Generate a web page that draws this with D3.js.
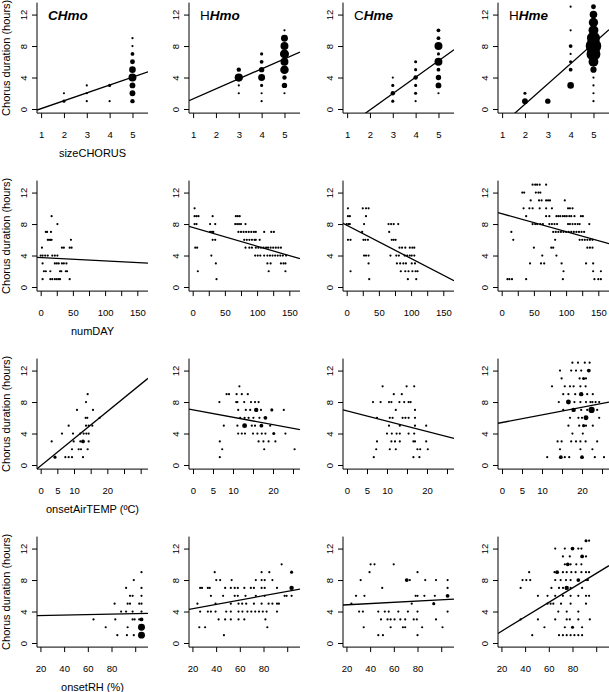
<!DOCTYPE html>
<html><head><meta charset="utf-8">
<script src="https://cdn.jsdelivr.net/npm/d3@7"></script>
<style>
body{margin:0;background:#fff}
text{font-family:"Liberation Sans",Arial,Helvetica,sans-serif;fill:#000}
</style>
</head><body><svg id="c" width="609" height="692"></svg>
<script>
// ---------- DATA ([x, y, count]) ----------
const panelNames = [["C","Hmo"],["H","Hmo"],["C","Hme"],["H","Hme"]];
const yTicks = [0,4,8,12];

// Row 1: sizeCHORUS
const sizeCHmo = [[2,2,1],[2,1,2],[3,3,1],[3,2,1],[3,1,1],[4,3,2],[4,1,1],[5,9,1],[5,8,1],[5,7,3],[5,6,5],[5,5,9],[5,4,13],[5,3,7],[5,2,7],[5,1,4]];
const sizeHHmo = [[3,5,4],[3,4,14],[3,3,1],[3,2,1],[4,7,2],[4,6,3],[4,5,6],[4,4,10],[4,3,2],[4,2,1],[4,1,1],[5,10,1],[5,9,10],[5,8,13],[5,7,17],[5,6,13],[5,5,15],[5,4,4],[5,3,6],[5,2,1]];
const sizeCHme = [[3,4,1],[3,3,2],[3,2,4],[3,1,2],[4,6,2],[4,5,2],[4,4,4],[4,3,2],[4,2,2],[4,1,1],[5,10,3],[5,9,3],[5,8,13],[5,7,2],[5,6,13],[5,5,3],[5,4,6],[5,3,7],[5,2,1]];
const sizeHHme = [[2,2,2],[2,1,7],[3,1,6],[4,13,1],[4,10,1],[4,8,3],[4,7,1],[4,6,2],[4,5,3],[4,3,9],[5,13,5],[5,12,12],[5,11,18],[5,10,20],[5,9,35],[5,8,50],[5,7,40],[5,6,20],[5,5,8],[5,4,1],[5,3,1],[5,2,1],[5,1,1]];
const fitSize = [[-0.95,1.0],[0.02,1.27],[-4.28,2.08],[-4.54,2.575]];
const sizeTicks = [1,2,3,4,5], sizeLabels = [1,2,3,4,5];

// Row 2: numDAY
const dayCHmo = [[17,9,1],[26,8,1],[8,7,1],[10,7,1],[16,7,1],[11,6,1],[13,6,1],[15,6,1],[17,6,1],[47,6,1],[2,5,1],[33,5,1],[36,5,1],[45,5,1],[48,5,1],[0,4,1],[3,4,1],[7,4,1],[11,4,1],[18,4,1],[22,4,1],[26,4,1],[3,3,1],[22,3,1],[25,3,1],[28,3,1],[33,3,1],[36,3,1],[40,3,1],[5,2,1],[8,2,1],[15,2,1],[30,2,1],[32,2,1],[39,2,1],[41,2,1],[3,1,1],[15,1,1],[18,1,1],[22,1,1],[25,1,1],[28,1,1],[30,1,1],[45,1,1]];
const dayHHmo = [[3,10,1],[3,9,1],[6,9,1],[9,9,1],[31,9,1],[67,9,1],[70,9,1],[73,9,1],[3,8,1],[6,8,1],[27,8,1],[35,8,1],[66,8,1],[69,8,1],[72,8,1],[75,8,1],[82,8,1],[27,7,1],[30,7,1],[32,7,1],[71,7,1],[75,7,1],[79,7,1],[83,7,1],[87,7,1],[91,7,1],[95,7,1],[98,7,1],[111,7,1],[122,7,1],[126,7,1],[31,6,1],[35,6,1],[80,6,1],[84,6,1],[88,6,1],[92,6,1],[96,6,1],[98,6,1],[104,6,1],[4,5,1],[7,5,1],[82,5,1],[88,5,1],[92,5,1],[98,5,1],[102,5,1],[106,5,1],[110,5,1],[114,5,1],[117,5,1],[121,5,1],[125,5,1],[129,5,1],[133,5,1],[137,5,1],[29,4,1],[97,4,1],[101,4,1],[105,4,1],[111,4,1],[116,4,1],[120,4,1],[124,4,1],[128,4,1],[132,4,1],[136,4,1],[140,4,1],[145,4,1],[36,3,1],[116,3,1],[121,3,1],[137,3,1],[141,3,1],[144,3,1],[8,2,1],[118,2,1],[144,2,1],[37,1,1]];
const dayCHme = [[2,10,1],[25,10,1],[30,10,1],[34,10,1],[2,9,1],[5,9,1],[30,9,1],[0,8,1],[3,8,1],[5,8,1],[27,8,1],[65,8,1],[69,8,1],[73,8,1],[80,8,1],[24,7,1],[66,7,1],[2,6,1],[6,6,1],[26,6,1],[29,6,1],[33,6,1],[70,6,1],[73,6,1],[76,6,1],[82,5,1],[86,5,1],[91,5,1],[98,5,1],[102,5,1],[105,5,1],[27,4,1],[30,4,1],[34,4,1],[68,4,1],[77,4,1],[81,4,1],[90,4,1],[94,4,1],[98,4,1],[101,4,1],[105,4,1],[34,3,1],[78,3,1],[83,3,1],[88,3,1],[92,3,1],[101,3,1],[106,3,1],[6,2,1],[84,2,1],[91,2,1],[96,2,1],[102,2,1],[107,2,1],[110,2,1],[35,1,1],[95,1,1],[108,1,1]];
const dayHHme = [[48,13,1],[52,13,1],[55,13,1],[59,13,1],[69,13,1],[32,12,1],[35,12,1],[53,12,1],[57,12,1],[60,12,1],[45,11,1],[58,11,1],[62,11,1],[69,11,1],[72,11,1],[75,11,1],[98,11,1],[34,10,1],[43,10,1],[48,10,1],[59,10,1],[69,10,1],[78,10,1],[103,10,1],[106,10,1],[110,10,1],[38,9,1],[69,9,1],[74,9,1],[85,9,1],[88,9,1],[91,9,1],[95,9,1],[98,9,1],[101,9,1],[105,9,1],[108,9,1],[113,9,1],[123,9,1],[126,9,1],[48,8,1],[52,8,1],[55,8,1],[60,8,1],[64,8,1],[74,8,1],[78,8,1],[82,8,1],[86,8,1],[103,8,1],[106,8,1],[110,8,1],[114,8,1],[118,8,1],[121,8,1],[136,8,1],[15,7,1],[80,7,1],[84,7,1],[88,7,1],[92,7,1],[96,7,1],[100,7,1],[104,7,1],[108,7,1],[112,7,1],[116,7,1],[120,7,1],[124,7,1],[128,7,1],[18,6,1],[83,6,1],[121,6,1],[125,6,1],[129,6,1],[133,6,1],[137,6,1],[141,6,1],[50,5,1],[77,5,1],[80,5,1],[133,5,1],[137,5,1],[141,5,1],[63,4,1],[85,4,1],[44,3,1],[61,3,1],[66,3,1],[93,3,1],[131,3,1],[142,3,1],[96,2,1],[142,2,1],[154,2,1],[9,1,1],[12,1,1],[16,1,1],[38,1,1],[95,1,1],[144,1,1],[150,1,1],[154,1,1]];
const fitDay = [[3.73,-0.0041],[7.56,-0.0238],[7.86,-0.0424],[9.32,-0.0229]];
const dayTicks = [0,25,50,75,100,125,150], dayLabels = [0,50,100,150];

// Row 3: onsetAirTEMP
const tempCHmo = [[14.1,9,1],[13.6,8,1],[10.9,7,1],[15.7,7,1],[13.5,6,1],[14,6,1],[17.7,6,1],[8.4,5,1],[13.6,5,1],[14.4,5,1],[15.5,5,1],[6.4,4,1],[9.7,4,1],[11.9,4,1],[12.9,4,1],[13.7,4,1],[14.4,4,1],[3.3,3,1],[9.9,3,1],[11.9,3,1],[12.7,3,3],[14.4,3,1],[9.4,2,1],[11.4,2,1],[12.1,2,1],[14.1,2,1],[4.3,1,2],[7.4,1,1],[8.4,1,1],[9.4,1,1],[12.7,1,1]];
const tempHHmo = [[11.6,10,1],[8.4,9,1],[9,9,1],[10.9,9,1],[12.2,9,1],[13.7,9,1],[6.6,8,1],[10.8,8,1],[11.1,8,1],[12.8,8,1],[14.5,8,1],[15.5,8,1],[16.4,8,1],[11.3,7,1],[13.2,7,1],[14.3,7,1],[15.8,7,4],[17,7,1],[19.7,7,2],[22.7,7,1],[11.8,6,1],[12.9,6,1],[13.9,6,1],[15.1,6,1],[16.6,6,1],[18.1,6,3],[7.7,5,1],[11.1,5,1],[12.9,5,5],[14.7,5,1],[15.5,5,1],[17.1,5,3],[19.3,5,1],[11.3,4,1],[12.2,4,1],[13,4,1],[15,4,1],[16.1,4,1],[17.2,4,1],[18.1,4,1],[20.2,4,2],[23.1,4,1],[6.7,3,1],[16.4,3,1],[17.6,3,1],[18.9,3,1],[20.6,3,1],[7.3,2,1],[17.8,2,1],[25.4,2,1],[6.7,1,1]];
const tempCHme = [[8.9,10,1],[14.9,10,1],[16.8,10,1],[11.7,9,1],[13.7,9,1],[6.5,8,1],[8.4,8,1],[10.5,8,1],[11.1,8,1],[13.1,8,1],[14.3,8,1],[15.4,8,1],[15.9,8,1],[12.2,7,1],[17,7,1],[7.5,6,1],[10.7,6,1],[11.4,6,1],[13.9,6,1],[14.6,6,1],[15.4,6,1],[17,6,1],[10.5,5,1],[13.2,5,1],[17,5,1],[19.8,5,1],[10,4,1],[11.2,4,1],[12.4,4,1],[13.2,4,1],[15.4,4,1],[16.8,4,1],[7.5,3,1],[11.1,3,1],[12,3,1],[13.2,3,1],[16.6,3,1],[17,3,1],[19.8,3,1],[7.3,2,1],[10.7,2,1],[12.2,2,1],[17.6,2,1],[18.3,2,1],[20.2,2,1],[6.7,1,1],[16.6,1,1],[18.1,1,1]];
const tempHHme = [[17.6,13,1],[19,13,1],[20.7,13,1],[21.9,13,1],[14.5,12,1],[17.3,12,1],[18.5,12,1],[19.8,12,1],[21.7,12,3],[14.9,11,1],[19.4,11,1],[20.4,11,2],[21,11,1],[12.5,10,1],[15.7,10,1],[17,10,1],[17.9,10,1],[19.6,10,1],[20.9,10,1],[15.3,9,1],[16.6,9,1],[18.3,9,1],[19.8,9,4],[21.3,9,1],[22.7,9,1],[14.2,8,1],[16.6,8,5],[18.1,8,1],[19.6,8,1],[21,8,1],[22.1,8,1],[22.6,8,1],[23.4,8,1],[24.3,8,1],[15.3,7,1],[17.9,7,4],[19.8,7,1],[21.3,7,1],[22.4,7,8],[23.8,7,1],[17,6,1],[19.1,6,1],[20,6,1],[21,6,5],[24.3,6,1],[16.6,5,1],[19.3,5,1],[20.4,5,2],[21,5,1],[22.7,5,1],[17.6,4,1],[20.2,4,1],[13.9,3,1],[14.9,3,1],[17.3,3,1],[18.5,3,1],[19.6,3,1],[20.9,3,1],[23.8,3,1],[14.5,2,1],[19.6,2,1],[22.6,2,1],[11.3,1,1],[14.7,1,3],[15.7,1,1],[16.8,1,1],[20,1,3],[23.2,1,1],[25.5,1,1]];
const fitTemp = [[-0.1,0.345],[7.0,-0.0937],[6.87,-0.13],[5.4,0.0973]];
const tempTicksWide = [0,5,10,15,20,25,30], tempTicks = [0,5,10,15,20,25], tempLabels = [0,5,10,20];

// Row 4: onsetRH
const rhCHmo = [[105.3,9,1],[98.8,8,1],[92.3,7,1],[105.3,7,1],[95.6,6,1],[97.8,6,1],[105.3,6,1],[82.6,5,1],[93.6,5,1],[95.6,5,1],[103.4,5,1],[105.3,5,1],[88.1,4,1],[92.3,4,1],[97.8,4,1],[105.3,4,1],[64.8,3,1],[83.2,3,1],[97.8,3,1],[99.5,3,1],[103.4,3,1],[105.3,3,3],[75.1,2,1],[93.6,2,1],[105.3,2,10],[84.9,1,1],[93,1,1],[98.8,1,1],[105.3,1,10]];
const rhHHmo = [[95.3,10,1],[38.8,9,1],[78.4,9,1],[84.9,9,1],[103.7,9,2],[40.1,8,1],[43.4,8,1],[53.1,8,1],[73.5,8,1],[78.4,8,1],[81,8,1],[87.5,8,1],[26.5,7,1],[28.1,7,1],[33,7,1],[34.6,7,1],[47.6,7,1],[52.4,7,1],[55.7,7,1],[58.3,7,1],[63.8,7,1],[69.3,7,1],[71.9,7,1],[78.4,7,1],[81,7,1],[91.4,7,1],[103.7,7,4],[35.6,6,1],[45.9,6,1],[55.7,6,1],[58.3,6,1],[64.8,6,1],[73.5,6,1],[81,6,1],[97.8,6,1],[99.5,6,1],[103.7,6,1],[24.2,5,1],[39.5,5,1],[52.4,5,1],[58.9,5,1],[62,5,1],[65.4,5,1],[71.9,5,1],[78.4,5,1],[84.3,5,1],[87.5,5,1],[91.4,5,1],[93,5,1],[26.5,4,1],[33,4,1],[35.6,4,1],[39.5,4,1],[48.5,4,1],[52.4,4,1],[58.9,4,1],[62.2,4,1],[66.4,4,1],[69.7,4,1],[73,4,1],[76.2,4,1],[79.4,4,1],[82.6,4,1],[91.4,4,1],[42.1,3,1],[47.6,3,1],[52.4,3,1],[58.9,3,1],[63.8,3,1],[81.6,3,1],[25.8,2,1],[30.7,2,1],[83.2,2,1],[46.6,1,1]];
const rhCHme = [[40.4,10,1],[43.7,10,1],[59.9,10,1],[39.5,9,1],[80,9,1],[32,8,1],[70.9,8,3],[73.5,8,1],[86.5,8,1],[95.6,8,1],[105.4,8,1],[50.2,7,1],[105.4,7,1],[28.1,6,1],[35.2,6,1],[78.4,6,1],[80,6,1],[85.8,6,1],[94.6,6,1],[105.4,6,3],[24.2,5,1],[75.1,5,1],[93.7,5,2],[30.7,4,1],[33.9,4,1],[46.9,4,1],[52.4,4,1],[55.7,4,1],[63.8,4,1],[71.9,4,1],[80,4,1],[105.4,4,1],[49.2,3,1],[54.7,3,1],[57.3,3,1],[60.6,3,1],[65.5,3,1],[69.6,3,1],[76.8,3,1],[79.4,3,1],[95.6,3,1],[34.6,2,1],[57.3,2,1],[67.7,2,1],[69.6,2,1],[83.9,2,1],[101.1,2,1],[46.9,1,1],[50.8,1,1],[80,1,1]];
const rhHHme = [[91.4,13,2],[94,13,1],[65.4,12,1],[73.5,12,1],[80,12,3],[84.9,12,1],[87.5,12,1],[71.9,11,1],[77.7,11,1],[88.1,11,3],[91.4,11,1],[73.5,10,1],[76,10,3],[78.4,10,1],[83.2,10,1],[87.5,10,1],[43.4,9,1],[64.8,9,1],[67,9,3],[71.9,9,1],[75.1,9,1],[79,9,1],[82.6,9,1],[87.5,9,1],[91.4,9,1],[94,9,1],[37.8,8,1],[41,8,1],[44.3,8,1],[65.4,8,1],[70,8,1],[74.5,8,1],[78.4,8,1],[84.9,8,3],[91.4,8,1],[93,8,1],[36.2,7,1],[62.2,7,1],[68.6,7,1],[72,7,1],[75.1,7,4],[78.4,7,1],[88.1,7,1],[50.8,6,1],[58.9,6,1],[65.4,6,1],[71.9,6,1],[78.4,6,1],[84.9,6,1],[91.4,6,1],[94,6,1],[58.9,5,1],[61.5,5,1],[63.8,5,1],[70.3,5,1],[78.4,5,1],[91.4,5,1],[68,4,1],[75.1,4,1],[84.9,4,1],[36.2,3,1],[50.8,3,1],[65.4,3,1],[75.1,3,1],[77.7,3,1],[84.9,3,1],[94.6,3,1],[56.3,2,1],[73.5,2,1],[80,2,2],[88.1,2,1],[46,1,1],[68.6,1,1],[71.9,1,1],[75.1,1,1],[78.4,1,1],[81.6,1,1],[84.9,1,1],[88.1,1,1]];
const fitRH = [[3.42,0.0032],[3.81,0.0275],[4.69,0.0081],[-0.35,0.0919]];
const rhTicks = [20,40,60,80,100], rhLabels = [20,40,60,80];

// ---------- LAYOUT ----------
const colX = [37,189,343,498], plotW = 111;
const rowTop = [2.6,180.6,358.6,536.6], plotH = 110.5;
const yDom = [-0.52,13.52];
const sizeDom = [0.82,5.68], dayDom = [-5.7,166.6], tempDomWide = [-1.1,32.2], tempDom = [-1,26.75], rhDom = [17.1,110.8];

const rows = [
  {data:[sizeCHmo,sizeHHmo,sizeCHme,sizeHHme], fits:fitSize, doms:[sizeDom,sizeDom,sizeDom,sizeDom], ticks:[sizeTicks,sizeTicks,sizeTicks,sizeTicks], labels:sizeLabels, title:"sizeCHORUS"},
  {data:[dayCHmo,dayHHmo,dayCHme,dayHHme], fits:fitDay, doms:[dayDom,dayDom,dayDom,dayDom], ticks:[dayTicks,dayTicks,dayTicks,dayTicks], labels:dayLabels, title:"numDAY"},
  {data:[tempCHmo,tempHHmo,tempCHme,tempHHme], fits:fitTemp, doms:[tempDomWide,tempDom,tempDom,tempDom], ticks:[tempTicksWide,tempTicks,tempTicks,tempTicks], labels:tempLabels, title:"onsetAirTEMP (ºC)"},
  {data:[rhCHmo,rhHHmo,rhCHme,rhHHme], fits:fitRH, doms:[rhDom,rhDom,rhDom,rhDom], ticks:[rhTicks,rhTicks,rhTicks,rhTicks], labels:rhLabels, title:"onsetRH (%)"}
];

const svg = d3.select("#c");
const rScale = d3.scaleSqrt().domain([0,1]).range([0,1.1]).clamp(false);

rows.forEach((row, ri) => {
  row.data.forEach((pts, ci) => {
    const x0 = colX[ci], y0 = rowTop[ri];
    const x = d3.scaleLinear().domain(row.doms[ci]).range([x0, x0+plotW]);
    const y = d3.scaleLinear().domain(yDom).range([y0+plotH, y0]);
    const id = `clip${ri}${ci}`;
    svg.append("clipPath").attr("id", id).append("rect")
      .attr("x", x0).attr("y", y0).attr("width", plotW).attr("height", plotH);
    const g = svg.append("g");
    g.append("g").attr("clip-path", `url(#${id})`).selectAll("circle").data(pts).join("circle")
      .attr("cx", d => x(d[0])).attr("cy", d => y(d[1])).attr("r", d => rScale(d[2])).attr("fill", "#000");
    const [a, b] = row.fits[ci];
    const dom = row.doms[ci];
    g.append("line").attr("clip-path", `url(#${id})`)
      .attr("x1", x(dom[0])).attr("y1", y(a + b*dom[0]))
      .attr("x2", x(dom[1])).attr("y2", y(a + b*dom[1]))
      .attr("stroke", "#000").attr("stroke-width", 1.3);
    // x axis
    const xa = g.append("g").attr("transform", `translate(0,${y0+plotH})`)
      .call(d3.axisBottom(x).tickValues(row.ticks[ci]).tickSize(5).tickPadding(13.5)
        .tickFormat(d => row.labels.includes(d) ? d : ""));
    xa.select(".domain").remove();
    xa.selectAll("line").attr("stroke", "#000");
    xa.selectAll("text").attr("font-size", "9.5px").attr("font-family", null);
    // y axis
    const ya = g.append("g").attr("transform", `translate(${x0},0)`)
      .call(d3.axisLeft(y).tickValues(yTicks).tickSize(5));
    ya.select(".domain").remove();
    ya.selectAll("line").attr("stroke", "#000");
    ya.selectAll("text").attr("font-size", "9.5px").attr("font-family", null)
      .attr("x", null).attr("text-anchor", "middle").attr("dy", "0.35em")
      .attr("transform", "translate(-13.4,0) rotate(-90)");
    // L box
    g.append("path").attr("d", `M${x0},${y0}V${y0+plotH}H${x0+plotW}`)
      .attr("fill", "none").attr("stroke", "#000").attr("stroke-width", 1);
    if (ci === 0) {
      g.append("text").attr("x", x0+plotW/2).attr("y", y0+plotH+40).attr("dy", "0.35em")
        .attr("text-anchor", "middle").attr("font-size", "11px").text(row.title);
      g.append("text").attr("transform", `translate(6.5,${y0+plotH/2}) rotate(-90)`)
        .attr("dy", "0.35em").attr("text-anchor", "middle").attr("font-size", "11px")
        .text("Chorus duration (hours)");
    }
    if (ri === 0) {
      const t = g.append("text").attr("x", x0+11).attr("y", y0+17.5).attr("font-size", "13.5px");
      const nm = panelNames[ci];
      t.append("tspan").attr("font-weight", ci === 0 ? "bold" : "normal")
        .attr("font-style", ci === 0 ? "italic" : "normal").text(nm[0]);
      t.append("tspan").attr("font-weight", "bold").attr("font-style", "italic").text(nm[1]);
    }
  });
});
</script></body></html>
